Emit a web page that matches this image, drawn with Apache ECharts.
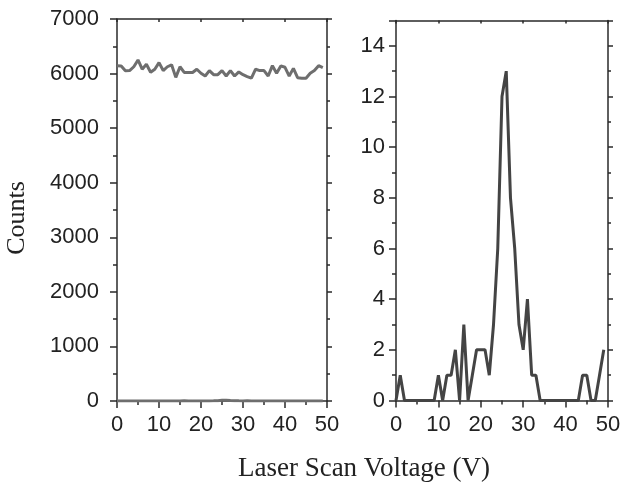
<!DOCTYPE html>
<html>
<head>
<meta charset="utf-8">
<script src="https://cdn.jsdelivr.net/npm/echarts@6/dist/echarts.min.js"></script>
<style>
  html, body { margin: 0; padding: 0; background: #fff; }
  .chart { width: 624px; height: 483px; }
</style>
</head>
<body>
<div class="chart"></div>
<script>
//- 数据
var voltage = [];
for (var v = 0; v < 50; v++) voltage.push(v);

var totalCounts = [6145, 6140, 6050, 6055, 6125, 6250, 6080, 6170, 6025, 6080,
  6200, 6055, 6125, 6160, 5930, 6125, 6020, 6020, 6020, 6080,
  6005, 5955, 6055, 5980, 5980, 6055, 5955, 6055, 5955, 6030,
  5980, 5945, 5915, 6080, 6055, 6055, 5955, 6145, 6005, 6140,
  6115, 5955, 6095, 5925, 5915, 5915, 6005, 6055, 6145, 6110];

var peakCounts = [0, 1, 0, 0, 0, 0, 0, 0, 0, 0,
  1, 0, 1, 1, 2, 0, 3, 0, 1, 2,
  2, 2, 1, 3, 6, 12, 13, 8, 6, 3,
  2, 4, 1, 1, 0, 0, 0, 0, 0, 0,
  0, 0, 0, 0, 1, 1, 0, 0, 1, 2];

(function () {
  var init = function () {
    render();
  }

  var pairs = function (ys) {
    return voltage.map(function (x, i) { return [x, ys[i]]; });
  }

  var axisLineStyle = { color: '#2a2a2a', width: 1.5 };
  var labelFont = { fontFamily: 'Liberation Sans', fontSize: 22, color: '#222',
    formatter: function (val) { return String(val); } };

  //- 主轴
  var mainX = function (grid) {
    return {
      type: 'value', gridIndex: grid, position: 'bottom', min: 0, max: 50, interval: 10,
      axisLine: { onZero: false, lineStyle: axisLineStyle },
      axisTick: { length: 7, lineStyle: axisLineStyle },
      minorTick: { show: true, splitNumber: 2, length: 4, lineStyle: axisLineStyle },
      axisLabel: Object.assign({ margin: 13 }, labelFont),
      splitLine: { show: false }
    };
  }
  var mainY = function (grid, max, interval, margin) {
    return {
      type: 'value', gridIndex: grid, position: 'left', min: 0, max: max, interval: interval,
      axisLine: { show: true, onZero: false, lineStyle: axisLineStyle },
      axisTick: { show: true, length: 7, lineStyle: axisLineStyle },
      minorTick: { show: true, splitNumber: 2, length: 4, lineStyle: axisLineStyle },
      axisLabel: Object.assign({ margin: margin, showMaxLabel: max === 7000 }, labelFont),
      splitLine: { show: false }
    };
  }
  //- 镜像轴（上、右）
  var mirrorX = function (grid) {
    return {
      type: 'value', gridIndex: grid, position: 'top', min: 0, max: 50, interval: 10,
      axisLine: { onZero: false, lineStyle: axisLineStyle },
      axisTick: { inside: true, length: 3, lineStyle: axisLineStyle },
      minorTick: { show: false },
      axisLabel: { show: false }, splitLine: { show: false }
    };
  }
  var mirrorY = function (grid, max, interval) {
    return {
      type: 'value', gridIndex: grid, position: 'right', min: 0, max: max, interval: interval,
      axisLine: { show: true, onZero: false, lineStyle: axisLineStyle },
      axisTick: { show: true, length: 5, lineStyle: axisLineStyle },
      minorTick: { show: true, splitNumber: 2, length: 3, lineStyle: axisLineStyle },
      axisLabel: { show: false }, splitLine: { show: false }
    };
  }

  var render = function () {
    var myChart = echarts.init(document.querySelector('.chart'), null, { renderer: 'canvas' });

    myChart.setOption({
      backgroundColor: '#fff',
      animation: false,
      grid: [
        { left: 117, top: 19, width: 210, height: 382 },
        { left: 396, top: 20.5, width: 212, height: 380 }
      ],
      xAxis: [mainX(0), mainX(1), mirrorX(0), mirrorX(1)],
      yAxis: [mainY(0, 7000, 1000, 18), mainY(1, 15, 2, 11), mirrorY(0, 7000, 1000), mirrorY(1, 15, 2)],
      graphic: [
        {
          type: 'text', x: 17, y: 218, rotation: Math.PI / 2,
          style: { text: 'Counts', fontFamily: 'Liberation Serif', fontSize: 26, fill: '#222',
            align: 'center', verticalAlign: 'middle' }
        },
        {
          type: 'text', x: 364, y: 469,
          style: { text: 'Laser Scan Voltage (V)', fontFamily: 'Liberation Serif', fontSize: 27, fill: '#222',
            align: 'center', verticalAlign: 'middle' }
        }
      ],
      series: [
        {
          type: 'line', xAxisIndex: 0, yAxisIndex: 0, data: pairs(totalCounts),
          symbol: 'none', lineStyle: { color: '#6e6e6e', width: 3 }
        },
        {
          type: 'line', xAxisIndex: 0, yAxisIndex: 0, data: pairs(peakCounts),
          symbol: 'none', lineStyle: { color: '#6e6e6e', width: 3 }
        },
        {
          type: 'line', xAxisIndex: 1, yAxisIndex: 1, data: pairs(peakCounts),
          symbol: 'none', lineStyle: { color: '#444', width: 3 }
        }
      ]
    });
  }
  init();
})()
</script>
</body>
</html>
